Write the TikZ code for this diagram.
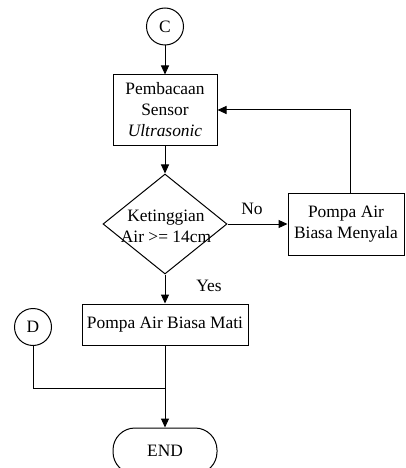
\documentclass[tikz,border=0pt]{standalone}
\usepackage{fontspec}
\setmainfont{Liberation Serif}
\usetikzlibrary{shapes.geometric,arrows.meta}
\begin{document}
\begin{tikzpicture}[x=1pt,y=-1pt,
  every node/.style={font=\fontsize{17.4}{21}\selectfont},
  line/.style={draw=black,line width=1pt},
  arr/.style={line,-{Triangle[length=9pt,width=8pt]}},
  proc/.style={draw,line width=1pt,rectangle,inner sep=0pt,align=center},
  conn/.style={draw,line width=1pt,circle,inner sep=0pt,minimum size=37pt},
  term/.style={draw,line width=1pt,rectangle,rounded corners=22pt,inner sep=0pt,minimum width=104pt,minimum height=46pt},
  dec/.style={draw,line width=1pt,diamond,inner sep=0pt,minimum width=124pt,minimum height=100pt}
]
\useasboundingbox (0,0) rectangle (406,468);
\clip (0,0) rectangle (406,468);
\node[conn] (c) at (165,26.5) {C};
\node[proc,minimum width=104pt,minimum height=70pt] (sens) at (165,110) {Pembacaan\\Sensor\\\textit{Ultrasonic}};
\node[dec] (dc) at (165,224) {};
\node[align=center,inner sep=0pt] (dctext) at (166,226) {Ketinggian\\Air >= 14cm};
\node[proc,minimum width=116pt,minimum height=62pt] (on) at (346,224) {Pompa Air\\Biasa Menyala};
\node[proc,minimum width=166pt,minimum height=41pt] (off) at (165,324.5) {Pompa Air Biasa Mati};
\node[conn] (d) at (33,327) {D};
\node[term] (end) at (165,451) {END};
\coordinate (merge) at (165,388);
\coordinate (ontop) at (350,193);
\node[inner sep=0pt] (nolbl) at (252,209) {No};
\node[inner sep=0pt] (yeslbl) at (209,286) {Yes};
\draw[arr] (c) -- (sens);
\draw[arr] (sens) -- (dc);
\draw[arr] (dc.east) -- (on.west);
\draw[arr] (ontop) |- (sens.east);
\draw[arr] (dc.south) -- (off.north);
\draw[arr] (off.south) -- (end.north);
\draw[line] (d.south) |- (merge);
\end{tikzpicture}
\end{document}
